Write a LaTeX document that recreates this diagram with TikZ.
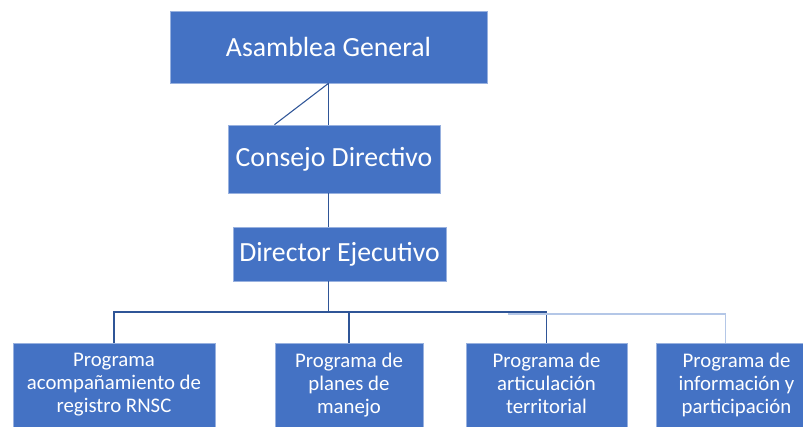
\documentclass[tikz,border=0pt]{standalone}
\usepackage{fontspec}
\setmainfont{Carlito}
\usetikzlibrary{calc}
\definecolor{orgblue}{HTML}{4472C4}
\definecolor{linkblue}{HTML}{2F5597}
\definecolor{paleblue}{HTML}{B4C7E7}
\tikzset{
	headbox/.style={fill=orgblue, draw=orgblue!55!white, line width=0.5pt, text=white, inner sep=0pt, font=\fontsize{20.8}{25}\selectfont},
	progbox/.style={fill=orgblue, draw=orgblue!55!white, line width=0.5pt, text=white, inner sep=0pt, align=center, anchor=north, minimum height=63pt, font=\fontsize{15.6}{17.1}\selectfont},
	link/.style={draw=linkblue, line width=0.8pt},
	palelink/.style={draw=paleblue, line width=0.8pt}
}

\begin{document}
\begin{tikzpicture}[x=0.75pt, y=-0.75pt]
			%%%%% START %%%%%
			\clip (0, 0) rectangle (803, 426);
			
			\node[headbox, minimum width=237.75pt, minimum height=54pt] (asam) at (328.5, 47) {Asamblea General};
			\node[headbox, minimum width=159pt, minimum height=51pt] (cons) at (334, 159) {Consejo Directivo};
			\node[headbox, minimum width=159.75pt, minimum height=40.5pt] (dir) at (339.5, 254) {Director Ejecutivo};
			
			\node[progbox, minimum width=151.5pt] (prog1) at (114, 342.5) {Programa\\acompañamiento de\\registro RNSC};
			\node[progbox, minimum width=111pt] (prog2) at (349, 342.5) {Programa de\\planes de\\manejo};
			\node[progbox, minimum width=120.75pt] (prog3) at (546.5, 342.5) {Programa de\\articulación\\territorial\vphantom{p}};
			\node[progbox, minimum width=120.75pt] (prog4) at (736.5, 342.5) {Programa de\\información y\\participación};
			
			\coordinate (slant) at ($(cons.north west)!0.22!(cons.north east)$);
			\coordinate (busy) at (0, 312);
			\coordinate (palestart) at (508, 314);
			
			\draw[link] (asam.south) -- (asam.south |- cons.north);
			\draw[link] (asam.south) -- (slant);
			\draw[link] (asam.south |- cons.south) -- (asam.south |- dir.north);
			
			\draw[link] (asam.south |- dir.south) -- (asam.south |- busy) -| (prog1.north);
			\draw[link] (asam.south |- busy) -| (prog2.north);
			\draw[link] (asam.south |- busy) -| (prog3.north);
			\draw[palelink] (palestart) -| ($(prog4.north west)+(70, 0)$);
			%%%%% END %%%%%
\end{tikzpicture}
\end{document}
